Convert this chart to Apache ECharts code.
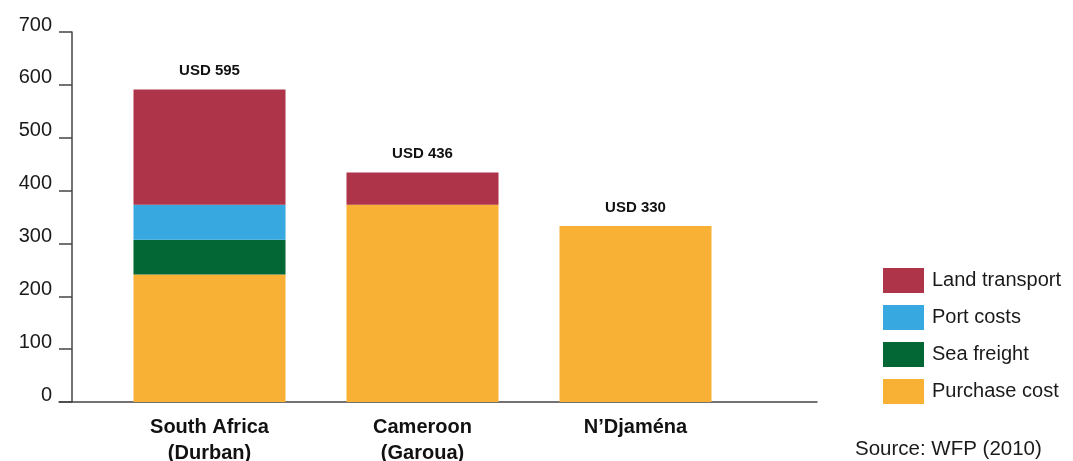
<!DOCTYPE html>
<html>
<head>
<meta charset="utf-8">
<script src="https://cdn.jsdelivr.net/npm/echarts@6/dist/echarts.min.js"></script>
<style>
  html, body { margin: 0; padding: 0; background: #fff; }
  #chart { width: 1073px; height: 461px; }
</style>
</head>
<body>
<div id="chart"></div>
<script>
// categories + stacked costs (USD per tonne)
var categories = ['South Africa\n(Durban)', 'Cameroon\n(Garoua)', 'N\u2019Djaména'];
var purchaseCost = [241, 373, 333];
var seaFreight = [66, 0, 0];
var portCosts = [66, 0, 0];
var landTransport = [218, 61, 0];
var totals = [595, 436, 330];
var yTicks = [0, 100, 200, 300, 400, 500, 600, 700];

var colors = {
  land: '#AE3549',
  port: '#37A8E0',
  sea: '#026735',
  purchase: '#F8B134'
};

var font = 'Liberation Sans, Arial, Helvetica, sans-serif';
var axisColor = '#444';

var chart = echarts.init(document.getElementById('chart'));

function stackBar(name, data, color) {
  return {
    name: name,
    type: 'bar',
    stack: 'cost',
    xAxisIndex: 0,
    yAxisIndex: 0,
    barWidth: 152,
    data: data,
    itemStyle: { color: color },
    emphasis: { disabled: true }
  };
}

chart.setOption({
  animation: false,
  textStyle: { fontFamily: font },
  grid: [
    { left: 103, width: 639, top: 32, height: 370, outerBoundsMode: 'none' },
    { left: 59, width: 758, top: 32, height: 370, outerBoundsMode: 'none' }
  ],
  legend: {
    orient: 'vertical',
    left: 878,
    top: 263,
    itemWidth: 41,
    itemHeight: 25,
    itemGap: 12,
    icon: 'rect',
    data: ['Land transport', 'Port costs', 'Sea freight', 'Purchase cost'],
    textStyle: { fontSize: 20, color: '#1a1a1a', fontFamily: font, padding: [0, 0, 0, 3] }
  },
  title: {
    text: 'Source: WFP (2010)',
    left: 855,
    top: 439,
    padding: 0,
    textStyle: { fontSize: 20.5, fontWeight: 'normal', color: '#1a1a1a', fontFamily: font }
  },
  xAxis: [
    {
      type: 'category',
      gridIndex: 0,
      data: categories,
      axisLine: { show: false },
      axisTick: { show: false },
      axisLabel: {
        margin: 12,
        fontSize: 20,
        fontWeight: 'bold',
        color: '#111',
        lineHeight: 26,
        fontFamily: font
      }
    },
    {
      type: 'value',
      gridIndex: 1,
      min: 0,
      max: 1,
      axisLine: { show: true, lineStyle: { color: axisColor, width: 1.5 } },
      axisTick: { show: false },
      axisLabel: { show: false },
      splitLine: { show: false }
    }
  ],
  yAxis: [
    {
      type: 'value',
      gridIndex: 0,
      min: yTicks[0],
      max: yTicks[yTicks.length - 1],
      interval: 100,
      offset: 31,
      axisLine: { show: true, lineStyle: { color: axisColor, width: 1.5 } },
      axisTick: { show: true, length: 13, lineStyle: { color: axisColor, width: 1.5 } },
      axisLabel: {
        margin: 20,
        fontSize: 20,
        lineHeight: 14,
        verticalAlign: 'bottom',
        color: '#1a1a1a',
        fontFamily: font
      },
      splitLine: { show: false }
    },
    {
      type: 'value',
      gridIndex: 1,
      min: 0,
      max: 700,
      show: false
    }
  ],
  series: [
    stackBar('Purchase cost', purchaseCost, colors.purchase),
    stackBar('Sea freight', seaFreight, colors.sea),
    stackBar('Port costs', portCosts, colors.port),
    stackBar('Land transport', landTransport, colors.land),
    {
      name: 'total',
      type: 'bar',
      stack: 'cost',
      barWidth: 152,
      data: totals.map(function () { return 0; }),
      itemStyle: { color: 'transparent' },
      label: {
        show: true,
        position: 'top',
        distance: 11,
        fontSize: 15,
        fontWeight: 'bold',
        color: '#111',
        fontFamily: font,
        formatter: function (p) { return 'USD ' + totals[p.dataIndex]; }
      }
    }
  ]
});

window.addEventListener('resize', function () {
  chart.resize();
});
</script>
</body>
</html>
